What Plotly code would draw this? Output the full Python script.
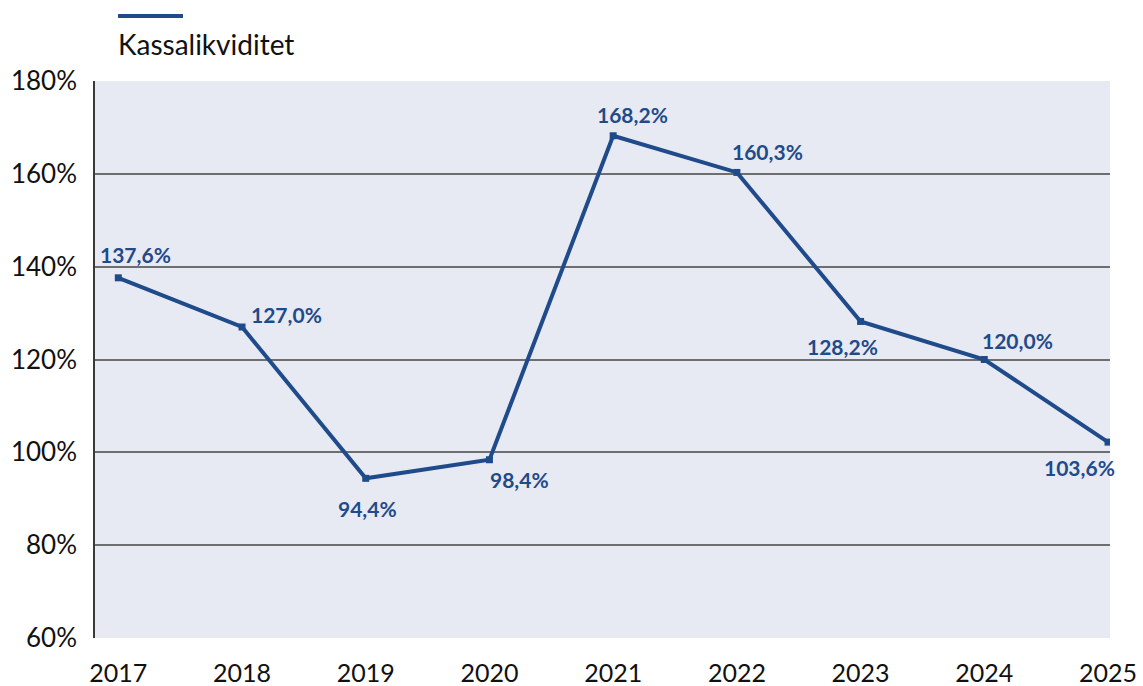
import plotly.graph_objects as go

years = [2017, 2018, 2019, 2020, 2021, 2022, 2023, 2024, 2025]
values = [137.6, 127.0, 94.4, 98.4, 168.2, 160.3, 128.2, 120.0, 102.2]
value_labels = ["137,6%", "127,0%", "94,4%", "98,4%", "168,2%", "160,3%", "128,2%", "120,0%", "103,6%"]
y_ticks = [60, 80, 100, 120, 140, 160, 180]
y_tick_labels = ["60%", "80%", "100%", "120%", "140%", "160%", "180%"]
series_name = "Kassalikviditet"

# label offsets (pixels) relative to each point
label_offsets = [(17, 23), (44, 13), (2, -30), (30, -20), (19, 21), (31, 21), (-18, -25), (33, 19), (-29, -25)]

LINE = "#1f4b8b"
FONT = "Lato, 'Source Sans Pro', sans-serif"

fig = go.Figure()
fig.add_trace(go.Scatter(
    x=years, y=values, mode="lines+markers", name=series_name,
    line=dict(color=LINE, width=4),
    marker=dict(symbol="square", size=7, color=LINE),
    showlegend=False, hoverinfo="x+y",
))

for x, y, t, (dx, dy) in zip(years, values, value_labels, label_offsets):
    fig.add_annotation(x=x, y=y, text=t, showarrow=False, xshift=dx, yshift=dy,
                       xanchor="center", yanchor="middle",
                       font=dict(family=FONT, size=21, color=LINE, weight="bold"))

# legend drawn as line + text above plot
fig.add_shape(type="line", xref="paper", yref="paper", x0=0.0227, x1=0.0867, y0=1.1167, y1=1.1167,
              line=dict(color=LINE, width=4))
fig.add_annotation(xref="paper", yref="paper", x=0.0206, y=1.066, text=series_name, showarrow=False,
                   xanchor="left", yanchor="middle", font=dict(family=FONT, size=28, color="#111111"))

fig.update_layout(
    width=1143, height=686,
    margin=dict(l=95, r=33, t=81, b=48, autoexpand=False),
    paper_bgcolor="white", plot_bgcolor="#e7eaf2",
    font=dict(family=FONT, color="#111111"),
    xaxis=dict(range=[2016.8116, 2025.016], tickvals=years, ticktext=[str(y) for y in years],
               showgrid=False, zeroline=False, showline=False, automargin=False,
               ticks="", ticklabelstandoff=18, tickfont=dict(size=25, color="#111111")),
    yaxis=dict(range=[60, 180], tickvals=y_ticks, ticktext=y_tick_labels, automargin=False,
               showgrid=True, gridcolor="#6e6e6e", gridwidth=1.6, zeroline=False,
               showline=True, linecolor="#3a3a3a", linewidth=1.6,
               ticks="", ticklabelstandoff=11, tickfont=dict(size=26, color="#111111")),
)

fig.write_html("out.html", config={"displayModeBar": False},
               post_script="document.body.style.margin='0';document.body.style.padding='0';")
